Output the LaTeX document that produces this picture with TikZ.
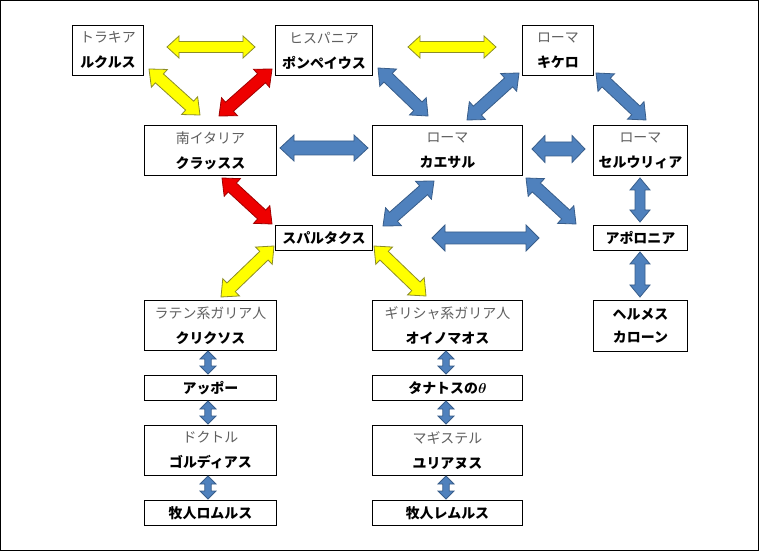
\documentclass[tikz,border=0pt]{standalone}
\usepackage{amsmath}
\usepackage{fontspec}
\setmainfont{Noto Sans CJK JP}
\usetikzlibrary{calc}
\definecolor{bfill}{RGB}{79,129,189}
\definecolor{bline}{RGB}{56,93,138}
\definecolor{yfill}{RGB}{255,255,0}
\definecolor{yline}{RGB}{140,140,40}
\definecolor{rfill}{RGB}{238,0,0}
\definecolor{rline}{RGB}{160,0,0}
\definecolor{tgray}{RGB}{95,95,95}
% block double arrow: style, from, to, shaft half, head half, head length
\newcommand\barrow[6]{%
  \draw[#1] (#2)
    -- ($(#2)!#6!(#3)!#5!90:(#3)$)
    -- ($(#2)!#6!(#3)!#4!90:(#3)$)
    -- ($(#3)!#6!(#2)!#4!-90:(#2)$)
    -- ($(#3)!#6!(#2)!#5!-90:(#2)$)
    -- (#3)
    -- ($(#3)!#6!(#2)!#5!90:(#2)$)
    -- ($(#3)!#6!(#2)!#4!90:(#2)$)
    -- ($(#2)!#6!(#3)!#4!-90:(#3)$)
    -- ($(#2)!#6!(#3)!#5!-90:(#3)$)
    -- cycle;}
\tikzset{
  box/.style={draw=black, line width=0.9bp, fill=white, anchor=north west,
    inner sep=0pt, align=center, font=\fontsize{14}{25}\selectfont},
  yarr/.style={fill=yfill, draw=yline, line width=0.8bp, line join=miter},
  rarr/.style={fill=rfill, draw=rline, line width=0.8bp, line join=miter},
  barr/.style={fill=bfill, draw=bline, line width=0.8bp, line join=miter},
}
\newcommand\gr[1]{{\color{tgray}#1}}
\begin{document}
\begin{tikzpicture}[x=1bp,y=-1bp]
\useasboundingbox (0,0) rectangle (760,552);
\draw[line width=1.5bp] (0.75,0.75) rectangle (758.5,550.5);

% boxes
\node[box, minimum width=71bp, minimum height=50bp] (thr) at (72,25) {\gr{トラキア}\\\textbf{ルクルス}};
\node[box, minimum width=97bp, minimum height=50bp] (his) at (275,25) {\gr{ヒスパニア}\\\textbf{ポンペイウス}};
\node[box, minimum width=71bp, minimum height=50bp] (cic) at (522,25) {\gr{ローマ}\\\textbf{キケロ}};
\node[box, minimum width=132bp, minimum height=50bp] (cra) at (144,125) {\gr{南イタリア}\\\textbf{クラッスス}};
\node[box, minimum width=150bp, minimum height=50bp] (cae) at (372,125) {\gr{ローマ}\\\textbf{カエサル}};
\node[box, minimum width=94bp, minimum height=50bp] (ser) at (593,125) {\gr{ローマ}\\\textbf{セルウリィア}};
\node[box, minimum width=97bp, minimum height=25bp] (spa) at (275,225) {\textbf{スパルタクス}};
\node[box, minimum width=94bp, minimum height=25bp] (apo) at (593,225) {\textbf{アポロニア}};
\node[box, minimum width=94bp, minimum height=51bp] (her) at (593,300) {\textbf{ヘルメス}\\[-2bp]\textbf{カローン}};
\node[box, minimum width=132bp, minimum height=50bp] (cri) at (144,300) {\gr{ラテン系ガリア人}\\\textbf{クリクソス}};
\node[box, minimum width=150bp, minimum height=50bp] (oin) at (372,300) {\gr{ギリシャ系ガリア人}\\\textbf{オイノマオス}};
\node[box, minimum width=132bp, minimum height=25bp] (app) at (144,375) {\textbf{アッポー}};
\node[box, minimum width=150bp, minimum height=25bp] (tha) at (372,375) {\textbf{タナトスの}$\boldsymbol{\theta}$};
\node[box, minimum width=132bp, minimum height=50bp] (gor) at (144,425) {\gr{ドクトル}\\\textbf{ゴルディアス}};
\node[box, minimum width=150bp, minimum height=50bp] (jul) at (372,425) {\gr{マギステル}\\\textbf{ユリアヌス}};
\node[box, minimum width=132bp, minimum height=25bp] (rom) at (144,500) {\textbf{牧人ロムルス}};
\node[box, minimum width=150bp, minimum height=25bp] (rem) at (372,500) {\textbf{牧人レムルス}};

% arrow end coordinates
\coordinate (y1a) at (167,47);  \coordinate (y1b) at (255,47);
\coordinate (y2a) at (408,47);  \coordinate (y2b) at (496,47);
\coordinate (y3a) at (149,69);  \coordinate (y3b) at (200,115);
\coordinate (r1a) at (272,69);  \coordinate (r1b) at (219,116);
\coordinate (b1a) at (378,68);  \coordinate (b1b) at (428,116);
\coordinate (b2a) at (519,73);  \coordinate (b2b) at (467,120);
\coordinate (b3a) at (596,73);  \coordinate (b3b) at (646,120);
\coordinate (b4a) at (280,148); \coordinate (b4b) at (368,148);
\coordinate (b5a) at (532,149); \coordinate (b5b) at (585,149);
\coordinate (r2a) at (222,178); \coordinate (r2b) at (272,224);
\coordinate (b6a) at (434,181); \coordinate (b6b) at (383,226);
\coordinate (b7a) at (526,178); \coordinate (b7b) at (576,224);
\coordinate (b8a) at (432,238); \coordinate (b8b) at (539,238);
\coordinate (b9a) at (640,178); \coordinate (b9b) at (640,222);
\coordinate (b10a) at (640,252); \coordinate (b10b) at (640,297);
\coordinate (y4a) at (274,246); \coordinate (y4b) at (221,297);
\coordinate (y5a) at (374,246); \coordinate (y5b) at (426,296);
\coordinate (s1a) at (208,351); \coordinate (s1b) at (208,374);
\coordinate (s2a) at (208,401); \coordinate (s2b) at (208,424);
\coordinate (s3a) at (208,476); \coordinate (s3b) at (208,499);
\coordinate (s4a) at (446,351); \coordinate (s4b) at (446,374);
\coordinate (s5a) at (446,401); \coordinate (s5b) at (446,424);
\coordinate (s6a) at (446,476); \coordinate (s6b) at (446,499);

% arrows
\barrow{yarr}{y1a}{y1b}{5.5bp}{11bp}{12bp}
\barrow{yarr}{y2a}{y2b}{5.5bp}{11bp}{12bp}
\barrow{yarr}{y3a}{y3b}{6bp}{12bp}{14bp}
\barrow{rarr}{r1a}{r1b}{6bp}{12bp}{14bp}
\barrow{barr}{b1a}{b1b}{6bp}{12bp}{14bp}
\barrow{barr}{b2a}{b2b}{6bp}{12bp}{14bp}
\barrow{barr}{b3a}{b3b}{6bp}{12bp}{14bp}
\barrow{barr}{b4a}{b4b}{7bp}{13bp}{14bp}
\barrow{barr}{b5a}{b5b}{7bp}{13.5bp}{13bp}
\barrow{rarr}{r2a}{r2b}{6bp}{12bp}{14bp}
\barrow{barr}{b6a}{b6b}{6bp}{12bp}{14bp}
\barrow{barr}{b7a}{b7b}{6bp}{12bp}{14bp}
\barrow{barr}{b8a}{b8b}{6bp}{13bp}{13bp}
\barrow{barr}{b9a}{b9b}{5bp}{10bp}{12bp}
\barrow{barr}{b10a}{b10b}{5bp}{10bp}{12bp}
\barrow{yarr}{y4a}{y4b}{6bp}{12bp}{14bp}
\barrow{yarr}{y5a}{y5b}{6bp}{12bp}{14bp}
\barrow{barr}{s1a}{s1b}{3.2bp}{8bp}{8bp}
\barrow{barr}{s2a}{s2b}{3.2bp}{8bp}{8bp}
\barrow{barr}{s3a}{s3b}{3.2bp}{8bp}{8bp}
\barrow{barr}{s4a}{s4b}{3.2bp}{8bp}{8bp}
\barrow{barr}{s5a}{s5b}{3.2bp}{8bp}{8bp}
\barrow{barr}{s6a}{s6b}{3.2bp}{8bp}{8bp}
\end{tikzpicture}
\end{document}
